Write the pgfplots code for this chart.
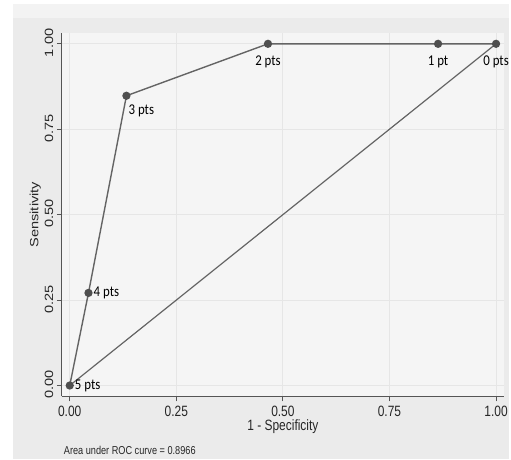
\documentclass[border=0pt]{standalone}
\usepackage{fontspec}
\setmainfont{Liberation Sans}
\newfontfamily\hfont[FakeStretch=0.8]{Liberation Sans}
\newfontfamily\vfont[FakeStretch=1.22]{Liberation Sans}
\newfontfamily\lblfont[FakeStretch=0.86]{Carlito}
\usepackage{pgfplots}
\pgfplotsset{compat=1.18}
\definecolor{topbg}{HTML}{F3F3F3}
\definecolor{outerbg}{HTML}{EBEBEB}
\definecolor{plotbg}{HTML}{F5F5F5}
\definecolor{gridc}{HTML}{E6E6E6}
\definecolor{axisc}{HTML}{555555}
\definecolor{linec}{HTML}{646464}
\definecolor{markc}{HTML}{4F4F4F}

\pgfplotstableread{
x      y     lbl
0.000  0.000 {5 pts}
0.044  0.271 {4 pts}
0.133  0.848 {3 pts}
0.465  1.000 {2 pts}
0.864  1.000 {1 pt}
1.000  1.000 {0 pts}
}\roc

\begin{document}
\begin{tikzpicture}[x=1pt,y=1pt]
\fill[white] (0,0) rectangle (511,-461);
\fill[topbg] (13,-4) rectangle (511,-461);
\fill[outerbg] (13,-18) rectangle (511,-461);
\begin{axis}[
    at={(62pt,-398pt)}, anchor=south west,
    scale only axis, width=444pt, height=365pt,
    xmin=-0.0187, xmax=1.0187, ymin=-0.032, ymax=1.032,
    axis background/.style={fill=plotbg},
    axis x line*=bottom, axis y line*=left,
    axis line style={axisc, line width=1.1pt},
    xtick={0,0.25,0.5,0.75,1}, ytick={0,0.25,0.5,0.75,1},
    xticklabels={0.00,0.25,0.50,0.75,1.00},
    yticklabels={0.00,0.25,0.50,0.75,1.00},
    tick align=outside, major tick length=5pt,
    tick style={axisc, line width=0.9pt},
    grid=major, major grid style={gridc, line width=0.8pt},
    xticklabel style={font=\hfont\fontsize{15}{16}\selectfont, text=black!85, yshift=-1pt},
    yticklabel style={font=\vfont\fontsize{12}{14}\selectfont, text=black!85, rotate=90, anchor=south, xshift=1pt},
    xlabel={1 - Specificity},
    xlabel style={font=\hfont\fontsize{15}{16}\selectfont, text=black!85, yshift=4pt},
    ylabel={Sensitivity},
    ylabel style={font=\vfont\fontsize{12}{14}\selectfont, text=black!85, yshift=-3pt},
    clip=false,
]
\addplot[linec, line width=1.2pt] coordinates {(0,0) (1,1)};
\addplot[linec, line width=1.4pt, mark=*, mark size=3.4pt,
    mark options={fill=markc, draw=markc}] table[x=x, y=y] {\roc};
% point labels
\addplot[draw=none, nodes near coords, point meta=explicit symbolic,
    nodes near coords style={anchor=west, font=\lblfont\fontsize{15}{16}\selectfont, inner sep=0pt, xshift=5pt}]
    table[x=x, y=y, meta=lbl] {
x      y     lbl
0.000  0.000 {5 pts}
0.044  0.271 {4 pts}
};
\addplot[draw=none, nodes near coords, point meta=explicit symbolic,
    nodes near coords style={anchor=north west, font=\lblfont\fontsize{15}{16}\selectfont, inner sep=2pt, yshift=-7pt}]
    table[x=x, y=y, meta=lbl] {
x      y     lbl
0.133  0.848 {3 pts}
};
\addplot[draw=none, nodes near coords, point meta=explicit symbolic,
    nodes near coords style={anchor=north, font=\lblfont\fontsize{15}{16}\selectfont, inner sep=2pt, yshift=-10pt}]
    table[x=x, y=y, meta=lbl] {
x      y     lbl
0.465  1.000 {2 pts}
0.864  1.000 {1 pt}
1.000  1.000 {0 pts}
};
\end{axis}
\node[anchor=west, inner sep=0pt, font=\hfont\fontsize{11.5}{13}\selectfont, text=black!85] at (64,-452) {Area under ROC curve = 0.8966};
\end{tikzpicture}
\end{document}
